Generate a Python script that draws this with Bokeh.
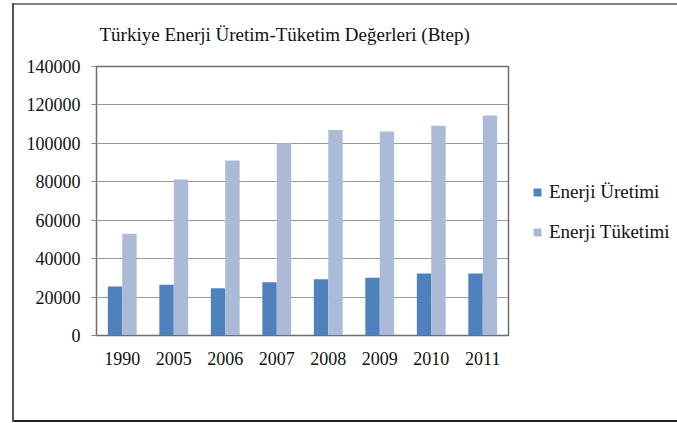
from bokeh.plotting import figure
from bokeh.models import (FactorRange, Range1d, FixedTicker, NumeralTickFormatter,
                          Legend, LegendItem, ColumnDataSource)
from bokeh.transform import dodge
from bokeh.embed import file_html
from bokeh.resources import INLINE

years = ["1990", "2005", "2006", "2007", "2008", "2009", "2010", "2011"]
uretim = [25500, 26400, 24600, 27700, 29300, 30000, 32300, 32300]
tuketim = [52900, 81200, 91100, 100100, 106900, 106200, 109100, 114500]
y_ticks = [0, 20000, 40000, 60000, 80000, 100000, 120000, 140000]
title_text = "Türkiye Enerji Üretim-Tüketim  Değerleri (Btep)"
series_names = ["Enerji Üretimi", "Enerji Tüketimi"]

FONT = "Liberation Serif"

src = ColumnDataSource(dict(years=years, uretim=uretim, tuketim=tuketim))

frame_bg = ("linear-gradient(#555,#555) 12px 3px / 2px 419px no-repeat, "
            "linear-gradient(#808080,#808080) 12px 3px / 700px 2px no-repeat, "
            "linear-gradient(#222,#222) 12px 420px / 700px 2px no-repeat, #ffffff")

p = figure(x_range=FactorRange(*years), y_range=Range1d(0, 140000),
           frame_width=412, frame_height=269, output_backend="svg", toolbar_location=None,
           min_border_left=96, min_border_right=0, min_border_top=0, min_border_bottom=88,
           styles={"background": frame_bg})
p.x_range.range_padding = 0
p.border_fill_color = None
p.background_fill_color = "white"

r1 = p.vbar(x=dodge("years", -0.14, range=p.x_range), top="uretim", width=0.28,
            source=src, fill_color="#4F81BD", line_color=None)
r2 = p.vbar(x=dodge("years", 0.14, range=p.x_range), top="tuketim", width=0.28,
            source=src, fill_color="#AABAD7", line_color=None)

p.title.text = title_text
p.title.align = "left"
p.title.offset = 3
p.title.standoff = 43
p.title.padding = 0
p.title.text_font = FONT
p.title.text_font_size = "19px"
p.title.text_font_style = "normal"
p.title.text_color = "#111111"

p.outline_line_color = "#6E6E6E"
p.outline_line_width = 1.5
p.xgrid.grid_line_color = None
p.ygrid.grid_line_color = "#9A9A9A"
p.ygrid.grid_line_width = 1.2
p.ygrid.ticker = FixedTicker(ticks=y_ticks)

p.yaxis.ticker = FixedTicker(ticks=y_ticks)
p.yaxis.formatter = NumeralTickFormatter(format="0")
p.yaxis.axis_line_color = "#6E6E6E"
p.yaxis.major_tick_line_color = "#8A8A8A"
p.yaxis.major_tick_out = 5
p.yaxis.major_tick_in = 0
p.yaxis.minor_tick_line_color = None
p.yaxis.major_label_standoff = 11
p.xaxis.axis_line_color = "#6E6E6E"
p.xaxis.major_tick_line_color = None
p.xaxis.major_label_standoff = 10
for ax in (p.xaxis, p.yaxis):
    ax.major_label_text_font = FONT
    ax.major_label_text_font_size = "18px"
    ax.major_label_text_color = "#111111"

legend = Legend(items=[LegendItem(label=series_names[0], renderers=[r1]),
                       LegendItem(label=series_names[1], renderers=[r2])],
                location=(24, 92), orientation="vertical",
                glyph_width=10, glyph_height=10, label_height=20, label_standoff=7,
                spacing=18, padding=0, margin=0, border_line_color=None,
                background_fill_alpha=0, label_text_font=FONT,
                label_text_font_size="19px", label_text_color="#111111")
p.add_layout(legend, "right")

open("out.html", "w").write(file_html(p, INLINE))
